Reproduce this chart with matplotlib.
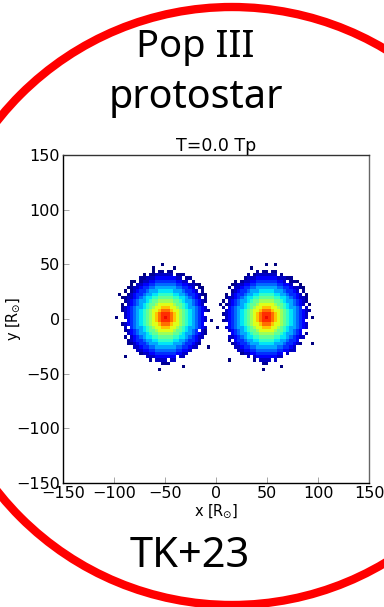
import numpy as np
import matplotlib
matplotlib.use("Agg")
import matplotlib.pyplot as plt
from matplotlib.patches import Ellipse

# histogram grid (3 R_sun bins over -150..150)
x_range = (-150, 150)
n_bins = 100

# blob centres [R_sun]
centres_x = [-50, 50]
centres_y = [0, 0]

# colour level (0..1 on jet) against distance from the centre, in cells
profile = [0.90, 0.86, 0.79, 0.70, 0.62, 0.54, 0.47, 0.41, 0.35, 0.29,
           0.23, 0.17, 0.11, 0.06, 0.02, 0.0, 0.0]

# row extents (left, right) in cells, from top row (+14) to bottom row (-14)
row_offsets = list(range(14, -15, -1))
left_blob_rows = [(-4, 2), (-7, 6), (-8, 8), (-11, 9), (-12, 11), (-12, 12),
                  (-13, 12), (-13, 13), (-14, 13), (-14, 13), (-14, 13),
                  (-14, 13), (-14, 14), (-14, 13), (-13, 14), (-13, 13),
                  (-14, 13), (-13, 13), (-13, 13), (-13, 13), (-13, 12),
                  (-12, 12), (-12, 11), (-11, 10), (-10, 9), (-8, 7),
                  (-6, 6), (-5, 3), (-1, 1)]
right_blob_rows = [(-3, 3), (-6, 5), (-8, 8), (-10, 10), (-11, 11), (-12, 12),
                   (-12, 12), (-13, 13), (-13, 13), (-14, 13), (-13, 14),
                   (-14, 13), (-13, 14), (-14, 14), (-13, 13), (-14, 13),
                   (-13, 13), (-13, 13), (-13, 12), (-12, 13), (-12, 12),
                   (-12, 11), (-11, 11), (-10, 10), (-9, 9), (-8, 7),
                   (-6, 5), (-4, 3), (-1, 0)]
# empty cells inside the ragged fringe (dx, dy)
left_gaps = [(-12, 10), (10, 9), (-13, 4), (12, 6), (-12, -3), (13, -2),
             (-11, -9), (9, -10), (-7, -12), (4, -12), (-9, 11), (6, 12),
             (-3, 14), (0, 14), (-6, 13), (3, 13), (8, 11), (-10, 10),
             (11, 8), (-13, 7), (-14, 5), (13, 4), (-14, 1), (13, 1),
             (-13, -1), (14, 0), (-12, -6), (12, -7), (-10, -10), (8, -11),
             (-4, -13), (1, -13), (-12, 8), (12, 10), (11, -4), (-13, -5)]
right_gaps = [(-11, 9), (11, 8), (-13, 3), (12, 3), (-13, -4), (12, -5),
              (-10, -10), (10, -9), (-5, -12), (6, -11), (-8, 12), (7, 11),
              (-2, 14), (1, 14), (-5, 13), (4, 13), (9, 10), (-9, 11),
              (12, 7), (-12, 7), (-13, 5), (13, 4), (-14, 2), (14, 1),
              (-13, -2), (13, -1), (-11, -7), (11, -7), (-9, -11), (9, -11),
              (-3, -13), (2, -13), (-12, 8), (10, 10), (12, -4), (-12, -5)]
# isolated cells outside the main body (dx, dy)
left_extra = [(-1, 16), (-4, 15), (3, 15), (-15, 7), (15, -1), (-16, 0),
              (14, -9), (-13, -12), (-2, -16), (6, -15)]
right_extra = [(0, 16), (-5, 15), (3, 16), (-15, 4), (15, 0), (-16, -3),
               (15, -8), (-12, -13), (-1, -16), (5, -15)]

edges = np.linspace(x_range[0], x_range[1], n_bins + 1)
cell = edges[1] - edges[0]
grid = np.full((n_bins, n_bins), np.nan)

blobs = [(left_blob_rows, left_gaps, left_extra),
         (right_blob_rows, right_gaps, right_extra)]
for (rows, gaps, extra), cx, cy in zip(blobs, centres_x, centres_y):
    ix0 = int((cx - x_range[0]) // cell)
    iy0 = int((cy - x_range[0]) // cell)
    cells = [(dx, dy) for dy, (lo, hi) in zip(row_offsets, rows)
             for dx in range(lo, hi + 1) if (dx, dy) not in gaps]
    for dx, dy in cells + extra:
        r = int(round(np.hypot(dx, dy)))
        grid[iy0 + dy, ix0 + dx] = profile[min(r, len(profile) - 1)]

fig = plt.figure(figsize=(3.84, 6.07), dpi=100)

# background overlay in pixel coordinates
bg = fig.add_axes([0, 0, 1, 1], zorder=0)
bg.set_xlim(0, 384)
bg.set_ylim(607, 0)
bg.axis("off")
bg.add_patch(Ellipse((232, 306), 598, 598, fill=False, edgecolor="red",
                     linewidth=6.0))
bg.text(195, 57, "Pop III", ha="center", va="baseline", fontsize=27.5,
        family="Noto Sans")
bg.text(196, 108, "protostar", ha="center", va="baseline", fontsize=28.5,
        family="Noto Sans")
bg.text(190, 567, "TK+23", ha="center", va="baseline", fontsize=30,
        family="Noto Sans")

ax = fig.add_axes([0.164, 0.2043, 0.797, 0.5404], zorder=1)
ax.pcolormesh(edges, edges, np.ma.masked_invalid(grid), cmap="jet",
              vmin=0, vmax=1)
ax.set_xlim(-150, 150)
ax.set_ylim(-150, 150)
ax.set_xticks([-150, -100, -50, 0, 50, 100, 150])
ax.set_yticks([-150, -100, -50, 0, 50, 100, 150])
ax.tick_params(direction="in", length=4, width=0.6, labelsize=11.5,
               color="#999999", pad=2)
for s in ax.spines.values():
    s.set_linewidth(1.0)
ax.spines["top"].set_color("#333333")
ax.spines["right"].set_color("#666666")
ax.set_title("T=0.0 Tp", fontsize=12.5, pad=3)
ax.set_xlabel(r"x [R$_{\odot}$]", fontsize=10.5, labelpad=1)
ax.set_ylabel(r"y [R$_{\odot}$]", fontsize=10.5)
ax.yaxis.set_label_coords(-0.13, 0.5)

fig.savefig("out.png", dpi=100)
